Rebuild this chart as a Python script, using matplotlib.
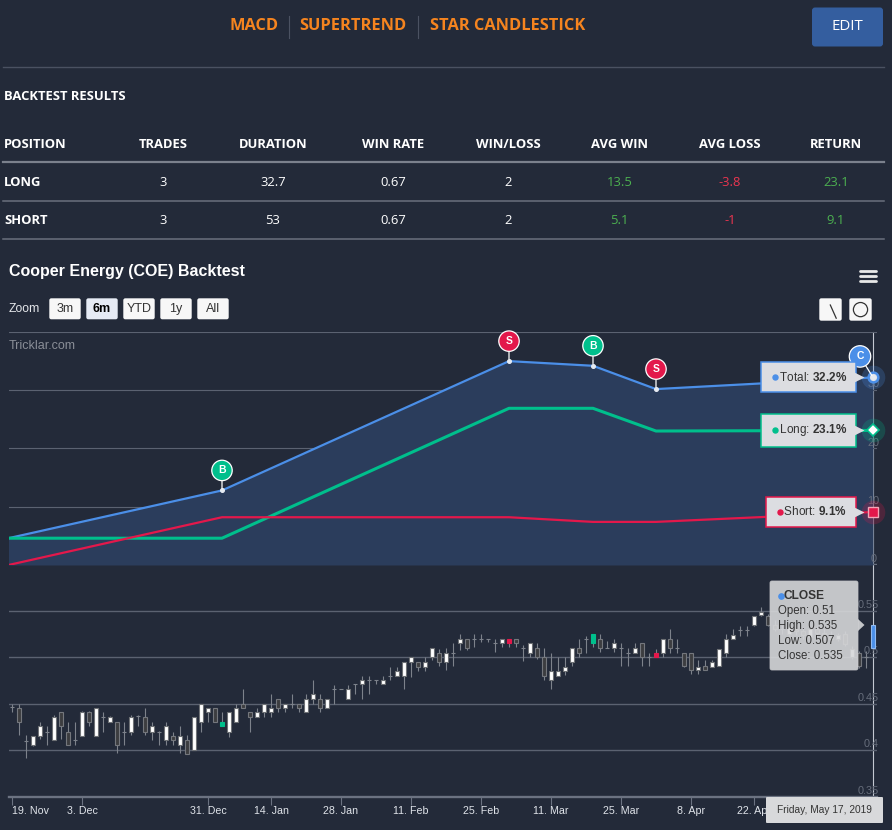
import matplotlib
matplotlib.use("Agg")
import matplotlib.pyplot as plt
import numpy as np
import pandas as pd
from matplotlib.patches import FancyBboxPatch, Polygon, Circle
from matplotlib.transforms import blended_transform_factory, offset_copy

W, H = 892, 830

# ---------------- data ----------------
STRATEGIES = ["MACD", "SUPERTREND", "STAR CANDLESTICK"]
TABLE_COLS = ["POSITION", "TRADES", "DURATION", "WIN RATE", "WIN/LOSS", "AVG WIN", "AVG LOSS", "RETURN"]
LONG_ROW = ["LONG", "3", "32.7", "0.67", "2", "13.5", "-3.8", "23.1"]
SHORT_ROW = ["SHORT", "3", "53", "0.67", "2", "5.1", "-1", "9.1"]
ZOOM_BTNS = ["3m", "6m", "YTD", "1y", "All"]

START, END = "2018-11-19", "2019-05-17"
HOLIDAYS = ["2018-12-25", "2018-12-26", "2019-01-01", "2019-04-19", "2019-04-22", "2019-04-25"]

OPEN = [0.447, 0.445, 0.410, 0.406, 0.415, 0.420, 0.411, 0.441, 0.420, 0.411,
        0.415, 0.441, 0.415, 0.436, 0.430, 0.430, 0.420, 0.420, 0.437, 0.436,
        0.420, 0.420, 0.411, 0.415, 0.406, 0.411, 0.400, 0.430, 0.441, 0.445,
        0.426, 0.420, 0.430, 0.450, 0.441, 0.436, 0.441, 0.441, 0.455, 0.445,
        0.450, 0.450, 0.441, 0.455, 0.455, 0.445, 0.466, 0.466, 0.455, 0.471,
        0.471, 0.476, 0.476, 0.471, 0.480, 0.480, 0.480, 0.495, 0.495, 0.490,
        0.500, 0.505, 0.495, 0.505, 0.515, 0.520, 0.520, 0.520, 0.520, 0.515,
        0.515, 0.520, 0.520, 0.510, 0.505, 0.510, 0.500, 0.475, 0.480, 0.485,
        0.495, 0.510, 0.520, 0.515, 0.520, 0.510, 0.510, 0.510, 0.505, 0.505,
        0.515, 0.500, 0.504, 0.505, 0.520, 0.510, 0.505, 0.505, 0.486, 0.491,
        0.490, 0.491, 0.505, 0.520, 0.529, 0.529, 0.535, 0.545, 0.544, 0.535,
        0.530, 0.525, 0.530, 0.528, 0.522, 0.530, 0.526, 0.522, 0.520, 0.525,
        0.500, 0.505, 0.500, 0.510]
HIGH = [0.450, 0.450, 0.416, 0.415, 0.430, 0.426, 0.438, 0.441, 0.430, 0.430,
        0.442, 0.442, 0.445, 0.441, 0.437, 0.430, 0.431, 0.438, 0.438, 0.445,
        0.430, 0.421, 0.430, 0.420, 0.426, 0.416, 0.436, 0.450, 0.445, 0.445,
        0.441, 0.441, 0.450, 0.466, 0.441, 0.445, 0.450, 0.461, 0.455, 0.450,
        0.461, 0.450, 0.461, 0.476, 0.461, 0.455, 0.470, 0.466, 0.470, 0.471,
        0.480, 0.480, 0.476, 0.480, 0.490, 0.490, 0.495, 0.500, 0.495, 0.500,
        0.510, 0.509, 0.510, 0.515, 0.525, 0.520, 0.525, 0.525, 0.520, 0.520,
        0.520, 0.520, 0.520, 0.513, 0.515, 0.515, 0.510, 0.505, 0.500, 0.500,
        0.510, 0.520, 0.523, 0.525, 0.525, 0.517, 0.520, 0.515, 0.510, 0.515,
        0.515, 0.505, 0.509, 0.519, 0.530, 0.519, 0.505, 0.505, 0.497, 0.497,
        0.497, 0.509, 0.525, 0.530, 0.533, 0.533, 0.544, 0.554, 0.546, 0.540,
        0.535, 0.535, 0.534, 0.532, 0.532, 0.533, 0.530, 0.528, 0.526, 0.528,
        0.512, 0.507, 0.507, 0.535]
LOW = [0.441, 0.416, 0.392, 0.405, 0.412, 0.406, 0.411, 0.412, 0.406, 0.406,
       0.415, 0.426, 0.415, 0.420, 0.430, 0.397, 0.406, 0.416, 0.426, 0.416,
       0.411, 0.406, 0.406, 0.406, 0.397, 0.396, 0.400, 0.420, 0.430, 0.430,
       0.426, 0.414, 0.430, 0.445, 0.420, 0.436, 0.436, 0.436, 0.441, 0.441,
       0.445, 0.441, 0.441, 0.450, 0.441, 0.445, 0.450, 0.466, 0.455, 0.461,
       0.455, 0.461, 0.471, 0.471, 0.476, 0.480, 0.466, 0.479, 0.485, 0.485,
       0.497, 0.491, 0.486, 0.491, 0.508, 0.508, 0.511, 0.516, 0.516, 0.506,
       0.511, 0.511, 0.511, 0.496, 0.500, 0.498, 0.476, 0.466, 0.480, 0.481,
       0.491, 0.500, 0.505, 0.511, 0.506, 0.510, 0.506, 0.491, 0.491, 0.505,
       0.491, 0.491, 0.500, 0.500, 0.505, 0.505, 0.489, 0.482, 0.482, 0.486,
       0.490, 0.491, 0.500, 0.520, 0.523, 0.523, 0.534, 0.544, 0.533, 0.528,
       0.525, 0.522, 0.524, 0.520, 0.520, 0.522, 0.518, 0.516, 0.517, 0.512,
       0.498, 0.488, 0.488, 0.507]
CLOSE = [0.447, 0.430, 0.410, 0.415, 0.426, 0.420, 0.436, 0.426, 0.406, 0.411,
         0.441, 0.430, 0.445, 0.436, 0.436, 0.406, 0.420, 0.436, 0.437, 0.420,
         0.426, 0.420, 0.426, 0.411, 0.415, 0.396, 0.436, 0.450, 0.445, 0.430,
         0.430, 0.441, 0.445, 0.445, 0.436, 0.441, 0.450, 0.445, 0.445, 0.450,
         0.450, 0.445, 0.455, 0.461, 0.445, 0.455, 0.466, 0.466, 0.466, 0.471,
         0.476, 0.476, 0.476, 0.476, 0.480, 0.485, 0.495, 0.500, 0.490, 0.495,
         0.510, 0.495, 0.505, 0.505, 0.520, 0.510, 0.520, 0.520, 0.520, 0.515,
         0.520, 0.515, 0.515, 0.510, 0.515, 0.500, 0.480, 0.485, 0.485, 0.490,
         0.510, 0.505, 0.520, 0.525, 0.510, 0.510, 0.515, 0.510, 0.505, 0.510,
         0.500, 0.500, 0.500, 0.519, 0.510, 0.510, 0.491, 0.486, 0.490, 0.486,
         0.495, 0.509, 0.519, 0.524, 0.529, 0.529, 0.544, 0.549, 0.535, 0.530,
         0.530, 0.532, 0.528, 0.524, 0.530, 0.526, 0.522, 0.520, 0.524, 0.514,
         0.509, 0.491, 0.500, 0.535]

EQ_DATES = ["2018-11-16", "2019-01-03", "2019-03-01", "2019-03-19", "2019-04-01", "2019-05-17"]
TOTAL_RET = [4.6, 12.8, 35.0, 34.2, 30.2, 32.2]
LONG_RET = [4.6, 4.6, 26.9, 26.9, 23.0, 23.1]
SHORT_RET = [0.0, 8.2, 8.2, 7.4, 7.4, 9.1]
SIGNALS = [("B", "2019-01-03"), ("S", "2019-03-01"), ("B", "2019-03-19"), ("S", "2019-04-01")]

TICK_DATES = ["2018-11-19", "2018-12-03", "2018-12-31", "2019-01-14", "2019-01-28", "2019-02-11",
              "2019-02-25", "2019-03-11", "2019-03-25", "2019-04-08", "2019-04-22"]
EQ_TICKS = [0, 10, 20, 30, 40]
PRICE_TICKS = [0.35, 0.40, 0.45, 0.50, 0.55]

# ---------------- style ----------------
BG = "#232a39"
AREA = "#2b3d5c"
GRID = "#5b6271"
AXIS = "#6b7281"
BLUE = "#4b8fe8"
GREEN = "#00bf8c"
RED = "#e3184b"
ORANGE = "#f5841f"
TXT_GREEN = "#4caf50"
TXT_RED = "#ea3550"
LABEL_BG = "#dcdde1"
SANS = "Liberation Sans"
OPEN_SANS = "Open Sans"

plt.rcParams["font.family"] = [SANS, "DejaVu Sans"]
plt.rcParams["mathtext.fontset"] = "custom"
plt.rcParams["mathtext.rm"] = SANS
plt.rcParams["mathtext.bf"] = SANS + ":bold"

days = pd.bdate_range(START, END).drop(pd.to_datetime(HOLIDAYS))
assert len(days) == len(OPEN)


def tpos(d):
    d = pd.Timestamp(d)
    i = days.searchsorted(d)
    return float(i) if i < len(days) and days[i] == d else i - 0.5


fig = plt.figure(figsize=(W / 100, H / 100), dpi=100, facecolor=BG)


def px_axes(left, top, right, bottom, z):
    a = fig.add_axes([left / W, 1 - bottom / H, (right - left) / W, (bottom - top) / H])
    a.set_zorder(z)
    a.patch.set_alpha(0)
    return a


bg = px_axes(0, 0, W, H, 0)
bg.set_xlim(0, W)
bg.set_ylim(H, 0)
bg.axis("off")

# ---------------- header ----------------
for name, cx in zip(STRATEGIES, [254, 353, 507.5]):
    bg.text(cx, 26, name, ha="center", va="center", color=ORANGE, fontsize=11.8,
            fontweight="bold", family=OPEN_SANS)
for sx in [289, 417.5]:
    bg.plot([sx, sx], [16, 38], color="#4b5262", lw=0.8)
bg.add_patch(FancyBboxPatch((812, 7.5), 71, 39, boxstyle="round,pad=0,rounding_size=3",
                            fc="#345e9f", ec="none"))
bg.text(847.5, 27, "EDIT", ha="center", va="center", color="white", fontsize=10.8, family=OPEN_SANS)
bg.plot([3, 884], [67, 67], color="#4a5161", lw=1)

bg.text(4, 96, "BACKTEST RESULTS", ha="left", va="center", color="white", fontsize=9.4,
        fontweight="bold", family=OPEN_SANS)

col_x = [4, 163, 273, 393, 508.5, 619.5, 730, 836]
for row, y, bold in [(TABLE_COLS, 144, True), (LONG_ROW, 182, False), (SHORT_ROW, 220, False)]:
    for j, (txt, cx) in enumerate(zip(row, col_x)):
        color = "white"
        if not bold and j in (5, 7):
            color = TXT_GREEN
        elif not bold and j == 6:
            color = TXT_RED
        bg.text(cx, y, txt, ha="left" if j == 0 else "center", va="center", color=color,
                fontsize=9.4, fontweight="bold" if (bold or j == 0) else "normal", family=OPEN_SANS)
bg.plot([3, 884], [162.5, 162.5], color="#7b818d", lw=1.6)
for y in [201, 239]:
    bg.plot([3, 884], [y, y], color="#6a707d", lw=1.1)

# ---------------- chart chrome ----------------
bg.text(9, 271, "Cooper Energy (COE) Backtest", ha="left", va="center", color="white",
        fontsize=11.5, fontweight="bold")
bg.text(9, 308.5, "Zoom", ha="left", va="center", color="#e4e6ea", fontsize=8.8)
for k, lab in enumerate(ZOOM_BTNS):
    x0 = 49.3 + 37 * k
    sel = lab == "6m"
    bg.add_patch(FancyBboxPatch((x0, 298.3), 31.4, 21, boxstyle="round,pad=0,rounding_size=2",
                                fc="#e6ebf5" if sel else "#f7f7f7", ec="none"))
    bg.text(x0 + 15.7, 308.5, lab, ha="center", va="center", color="#000000" if sel else "#333333",
            fontsize=9, fontweight="bold" if sel else "normal")
for yb in [270.7, 275.9, 281.1]:
    bg.plot([860, 876], [yb, yb], color="#e8e8e8", lw=2, solid_capstyle="round")
for x0 in [819.3, 849.3]:
    bg.add_patch(FancyBboxPatch((x0, 298.3), 22.4, 22.4, boxstyle="round,pad=0,rounding_size=2",
                                fc="#f7f7f7", ec="none"))
bg.plot([830.3, 836.2], [305, 318.2], color="#333333", lw=0.9)
bg.add_patch(Circle((860.5, 309.6), 7.1, fc="none", ec="#333333", lw=0.9))
bg.text(9, 346, "Tricklar.com", ha="left", va="center", color="#8a8e97", fontsize=9)

ax_e = px_axes(8.5, 332, 876.5, 565, 2)
ax_p = px_axes(8.5, 584.5, 876.5, 797, 2)
ov = px_axes(0, 0, W, H, 10)
ov.set_xlim(0, W)
ov.set_ylim(H, 0)
ov.axis("off")

for a in (ax_e, ax_p):
    a.set_xlim(-0.5, len(days) - 0.5)
    for s in a.spines.values():
        s.set_visible(False)
    a.tick_params(left=False, labelleft=False, bottom=False, labelbottom=False)
ax_e.set_ylim(0, 40)
ax_p.set_ylim(0.35, 0.578)

# crosshair at the hovered point
last = len(days) - 1
cross = blended_transform_factory(ax_p.transData, bg.transData)
bg.plot([last, last], [332, 797], transform=cross, color="#c3c8d1", lw=0.8)

# ---------------- equity pane ----------------
ex = [tpos(d) for d in EQ_DATES]
for v in EQ_TICKS[1:]:
    ax_e.axhline(v, color=GRID, lw=0.8, zorder=1)
ax_e.axhline(0, color=AXIS, lw=1.7, zorder=1)
for v in EQ_TICKS[:-1]:
    ax_e.annotate(f"{v}", xy=(1, v), xycoords=("axes fraction", "data"), xytext=(-3, 1),
                  textcoords="offset pixels", ha="center", va="bottom", color="#666d7b", fontsize=7.8)

ax_e.fill_between(ex, TOTAL_RET, 0, color=AREA, lw=0, zorder=1.5)
ax_e.plot(ex, TOTAL_RET, color=BLUE, lw=1.6, zorder=3)
ax_e.plot(ex, LONG_RET, color=GREEN, lw=2.2, zorder=3)
ax_e.plot(ex, SHORT_RET, color=RED, lw=1.6, zorder=3)


def flag(letter, x, y, color, dx=0, dy=20, pad=0.5):
    ax_e.plot([x], [y], "o", ms=2.6, color="#e6ebf2", zorder=6, clip_on=False)
    ax_e.annotate(letter, xy=(x, y), xytext=(dx, dy), textcoords="offset pixels",
                  ha="center", va="center", color="white", fontsize=7.5, fontweight="bold",
                  bbox=dict(boxstyle=f"circle,pad={pad}", fc=color, ec="white", lw=0.9),
                  arrowprops=dict(arrowstyle="-", color="white", lw=0.9, shrinkA=0, shrinkB=1.5),
                  zorder=7, annotation_clip=False)


for letter, d in SIGNALS:
    xs = tpos(d)
    flag(letter, xs, float(np.interp(xs, ex, TOTAL_RET)), GREEN if letter == "B" else RED)

series = [("Total", TOTAL_RET[-1], BLUE, "o"), ("Long", LONG_RET[-1], GREEN, "D"),
          ("Short", SHORT_RET[-1], RED, "s")]
for name, v, color, mk in series:
    ax_e.plot([ex[-1]], [v], "o", ms=17, color=color, alpha=0.22, mew=0, zorder=5, clip_on=False)
    if mk == "o":
        ax_e.plot([ex[-1]], [v], mk, ms=7, mfc="#dfe3ea", mec=color, mew=1.8, zorder=6, clip_on=False)
    elif mk == "D":
        ax_e.plot([ex[-1]], [v], mk, ms=6, mfc="white", mec=color, mew=1.2, zorder=6, clip_on=False)
    else:
        ax_e.plot([ex[-1]], [v], mk, ms=7.5, mfc=color, mec="#f3a6b8", mew=1, zorder=6, clip_on=False)

flag("C", ex[-1], TOTAL_RET[-1], BLUE, dx=-13, dy=21, pad=0.55)

labels = []
for name, v, color, mk in series:
    t = ax_e.annotate(f"   {name}: $\\mathbf{{{v:.1f}\\%}}$", xy=(ex[-1], v), xytext=(-26, 0),
                      textcoords="offset pixels", ha="right", va="center", color="#333333",
                      fontsize=8.5, zorder=8, annotation_clip=False,
                      bbox=dict(boxstyle="square,pad=0.72", fc=LABEL_BG, ec=color, lw=1.1))
    ax_e.plot([ex[-1]], [v], marker=">", ms=7, mfc=LABEL_BG, mec="none", zorder=8.5, clip_on=False,
              transform=offset_copy(ax_e.transData, fig=fig, x=-14.5, y=0, units="dots"))
    labels.append((t, v, color))

# ---------------- candlestick pane ----------------
for v in PRICE_TICKS[1:]:
    ax_p.axhline(v, color=GRID, lw=1, zorder=1)
ax_p.spines["bottom"].set_visible(True)
ax_p.spines["bottom"].set_color(AXIS)
ax_p.spines["bottom"].set_linewidth(1.7)
for v in PRICE_TICKS:
    ax_p.annotate(f"{v:g}", xy=(1, v), xycoords=("axes fraction", "data"), xytext=(2, 1),
                  textcoords="offset pixels", ha="right", va="bottom", color="#666d7b", fontsize=7.8)

o, h, l, c = map(np.array, (OPEN, HIGH, LOW, CLOSE))
xi = np.arange(len(days))
signal_pos = {int(tpos(d)): (GREEN if s == "B" else RED) for s, d in SIGNALS}
fills, edges = [], []
for i in xi:
    if i == last:
        fills.append(BLUE)
        edges.append("#8fbaf2")
    elif i in signal_pos:
        fills.append(signal_pos[i])
        edges.append(signal_pos[i])
    elif c[i] > o[i]:
        fills.append("white")
        edges.append("#6f7276")
    elif c[i] < o[i]:
        fills.append("#3c3d40")
        edges.append("#74777d")
    else:
        fills.append("none")
        edges.append("#7d828b")
ax_p.vlines(xi, l, h, color="#7d828b", lw=0.8, zorder=2)
ax_p.bar(xi, np.abs(c - o), bottom=np.minimum(o, c), width=0.7, color=fills,
         edgecolor=edges, linewidth=0.8, zorder=3)

tick_pos = [days.searchsorted(pd.Timestamp(d)) for d in TICK_DATES]
tick_lab = [f"{pd.Timestamp(d).day}. {pd.Timestamp(d):%b}" for d in TICK_DATES]
ax_p.set_xticks(tick_pos, tick_lab)
ax_p.tick_params(axis="x", bottom=True, labelbottom=True, length=5.5, width=0.8, color=AXIS,
                 labelcolor="#dfe3e9", labelsize=7.7, pad=1)
ax_p.get_xticklabels()[0].set_ha("left")

# ---------------- tooltip & date label ----------------
ov.add_patch(FancyBboxPatch((770, 581), 88, 89, boxstyle="round,pad=0,rounding_size=2",
                            fc="#d6d7d9", ec="#c4c5c8", lw=0.6, alpha=0.9, zorder=5))
ov.add_patch(Polygon([(858, 619), (864.5, 625), (858, 631)], closed=True, fc="#d6d7d9",
                     ec="none", alpha=0.9, zorder=5))
ov.plot([780.5], [595.8], "o", ms=3.8, color=BLUE, zorder=6)
ov.text(784, 595.8, "CLOSE", ha="left", va="center", color="#333333", fontsize=8.6,
        fontweight="bold", zorder=6)
tip = [f"Open: {o[last]:g}", f"High: {h[last]:g}", f"Low: {l[last]:g}", f"Close: {c[last]:g}"]
for k, line in enumerate(tip):
    ov.text(777.7, 610.8 + 15 * k, line, ha="left", va="center", color="#333333", fontsize=8.3, zorder=6)

ov.add_patch(FancyBboxPatch((766, 797), 117, 26, boxstyle="round,pad=0,rounding_size=1",
                            fc="#d8d9db", ec="none", zorder=5))
ov.text(824.5, 810, f"{days[last]:%A, %B} {days[last].day}, {days[last].year}", ha="center",
        va="center", color="#333333", fontsize=7.3, zorder=6)

# coloured dots inside the series labels
fig.canvas.draw()
renderer = fig.canvas.get_renderer()
for t, v, color in labels:
    bb = t.get_window_extent(renderer)
    ax_px = ax_e.transData.transform((ex[-1], v))[0]
    ax_e.plot([ex[-1]], [v], "o", ms=3.6, color=color, zorder=9, clip_on=False,
              transform=offset_copy(ax_e.transData, fig=fig, x=bb.x0 - ax_px + 5.5, y=0, units="dots"))

fig.savefig("out.png", dpi=100, facecolor=BG)
